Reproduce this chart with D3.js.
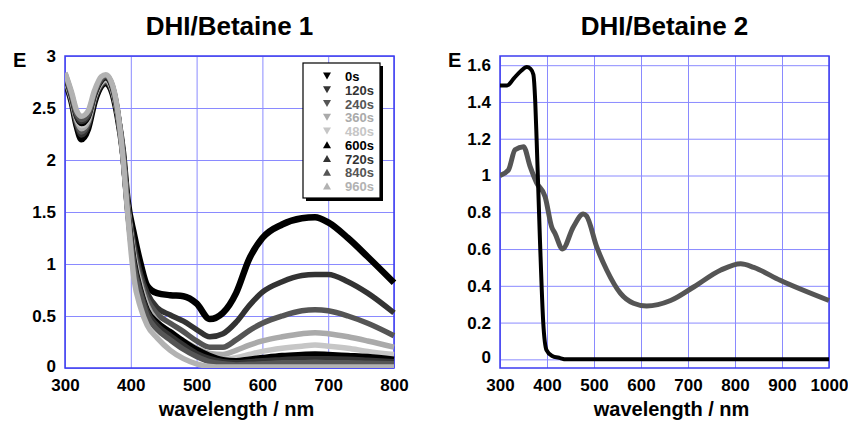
<!DOCTYPE html>
<html>
<head>
<meta charset="utf-8">
<script src="https://cdn.jsdelivr.net/npm/d3@7"></script>
<style>
  body { margin: 0; background: #fff; }
  text { font-family: "Liberation Sans", Arial, sans-serif; font-weight: bold; }
</style>
</head>
<body>
<div id="chart"></div>
<script>
// wavelengths (nm) for the kinetic series, panel 1
const wl1 = [300, 310, 318, 325, 335, 345, 355, 362, 370, 380, 388, 395, 405, 415, 425, 440, 460, 480, 500, 520, 540, 560, 580, 600, 630, 660, 680, 700, 730, 760, 800]

const times = ["0s", "120s", "240s", "360s", "480s", "600s", "720s", "840s", "960s"]
const colors = ["#000000", "#333333", "#555555", "#aaaaaa", "#c6c6c6", "#000000", "#333333", "#555555", "#b2b2b2"]
const shapes = ["down", "down", "down", "down", "down", "up", "up", "up", "up"]

const e0s   = [2.76, 2.56, 2.32, 2.20, 2.30, 2.56, 2.71, 2.74, 2.68, 2.42, 2.08, 1.62, 1.28, 1.00, 0.79, 0.72, 0.70, 0.69, 0.62, 0.47, 0.53, 0.72, 1.05, 1.25, 1.38, 1.44, 1.45, 1.40, 1.25, 1.07, 0.82]
const e120s = [2.77, 2.57, 2.34, 2.24, 2.33, 2.58, 2.72, 2.75, 2.69, 2.43, 2.08, 1.60, 1.18, 0.90, 0.72, 0.58, 0.51, 0.45, 0.37, 0.30, 0.33, 0.44, 0.60, 0.73, 0.83, 0.89, 0.90, 0.90, 0.83, 0.72, 0.53]
const e240s = [2.78, 2.58, 2.36, 2.27, 2.35, 2.60, 2.73, 2.76, 2.70, 2.44, 2.07, 1.58, 1.12, 0.85, 0.66, 0.52, 0.43, 0.35, 0.26, 0.20, 0.20, 0.27, 0.36, 0.43, 0.50, 0.55, 0.56, 0.55, 0.50, 0.43, 0.31]
const e360s = [2.79, 2.59, 2.38, 2.30, 2.37, 2.61, 2.74, 2.77, 2.71, 2.45, 2.06, 1.56, 1.08, 0.80, 0.60, 0.45, 0.34, 0.26, 0.19, 0.14, 0.13, 0.17, 0.22, 0.26, 0.30, 0.33, 0.34, 0.33, 0.30, 0.26, 0.20]
const e480s = [2.80, 2.60, 2.40, 2.33, 2.39, 2.62, 2.75, 2.78, 2.72, 2.45, 2.05, 1.55, 1.05, 0.77, 0.57, 0.42, 0.31, 0.22, 0.15, 0.10, 0.08, 0.10, 0.13, 0.16, 0.19, 0.21, 0.22, 0.21, 0.19, 0.16, 0.13]
const e600s = [2.81, 2.61, 2.41, 2.35, 2.41, 2.63, 2.76, 2.79, 2.73, 2.46, 2.05, 1.54, 1.03, 0.75, 0.56, 0.44, 0.35, 0.26, 0.18, 0.12, 0.08, 0.07, 0.085, 0.10, 0.12, 0.13, 0.135, 0.13, 0.12, 0.11, 0.085]
const e720s = [2.82, 2.62, 2.42, 2.37, 2.42, 2.64, 2.77, 2.80, 2.74, 2.46, 2.04, 1.53, 1.00, 0.73, 0.54, 0.41, 0.31, 0.22, 0.14, 0.09, 0.06, 0.05, 0.06, 0.07, 0.08, 0.09, 0.09, 0.09, 0.085, 0.075, 0.06]
const e840s = [2.83, 2.63, 2.44, 2.39, 2.44, 2.65, 2.78, 2.81, 2.75, 2.47, 2.04, 1.52, 0.96, 0.70, 0.50, 0.37, 0.27, 0.18, 0.11, 0.06, 0.04, 0.03, 0.035, 0.04, 0.05, 0.05, 0.055, 0.05, 0.05, 0.045, 0.04]
const e960s = [2.84, 2.65, 2.47, 2.42, 2.47, 2.67, 2.80, 2.82, 2.76, 2.48, 2.03, 1.50, 0.85, 0.58, 0.41, 0.29, 0.17, 0.09, 0.04, 0.015, 0.01, 0.01, 0.01, 0.01, 0.01, 0.01, 0.01, 0.01, 0.01, 0.01, 0.01]
const series1 = [e0s, e120s, e240s, e360s, e480s, e600s, e720s, e840s, e960s]

// panel 2: two spectra
const wlBlack = [300, 315, 330, 345, 357, 365, 371, 375, 378, 385, 392, 399, 410, 428, 440, 1000]
const eBlack  = [1.49, 1.49, 1.53, 1.57, 1.59, 1.58, 1.55, 1.40, 1.19, 0.65, 0.20, 0.05, 0.02, 0.007, 0.0, 0.0]
const wlGray = [300, 318, 332, 350, 364, 378, 396, 410, 417, 433, 456, 477, 484, 506, 527, 556, 584, 612, 663, 713, 770, 812, 840, 896, 1000]
const eGray  = [1.00, 1.03, 1.14, 1.157, 1.05, 0.96, 0.885, 0.72, 0.685, 0.60, 0.72, 0.79, 0.78, 0.61, 0.486, 0.36, 0.305, 0.29, 0.32, 0.395, 0.486, 0.52, 0.50, 0.43, 0.32]

const yTicks1 = [0, 0.5, 1, 1.5, 2, 2.5, 3]
const xTicks1 = [300, 400, 500, 600, 700, 800]
const yTicks2 = [0, 0.2, 0.4, 0.6, 0.8, 1, 1.2, 1.4, 1.6]
const xTicks2 = [300, 400, 500, 600, 700, 800, 900, 1000]

const W = 848, H = 427
const svg = d3.select("#chart").append("svg").attr("width", W).attr("height", H)

const gridColor = "#8a8aff"
const frameColor = "#3c3cf0"

function panel(opts) {
  const {left, right, top, bottom, xDomain, yDomain, xTicks, yTicks, title} = opts
  const x = d3.scaleLinear().domain(xDomain).range([left, right])
  const y = d3.scaleLinear().domain(yDomain).range([bottom, top])
  const g = svg.append("g")

  // grid + tick labels
  const xg = g.append("g")
    .attr("transform", "translate(0," + bottom + ")")
    .call(d3.axisBottom(x).tickValues(xTicks).tickSize(-(bottom - top)).tickFormat(d3.format("d")).tickPadding(11))
  xg.select(".domain").remove()
  xg.selectAll("line").attr("stroke", gridColor).attr("stroke-width", 1)
  xg.selectAll("text").attr("fill", "#000").attr("font-size", 17).attr("font-family", "Liberation Sans, Arial").attr("font-weight", "bold")

  const yg = g.append("g")
    .attr("transform", "translate(" + left + ",0)")
    .call(d3.axisLeft(y).tickValues(yTicks).tickSize(-(right - left)).tickFormat(d => String(d)).tickPadding(9))
  yg.select(".domain").remove()
  yg.selectAll("line").attr("stroke", gridColor).attr("stroke-width", 1)
  yg.selectAll("text").attr("fill", "#000").attr("font-size", 17).attr("font-family", "Liberation Sans, Arial").attr("font-weight", "bold")
    .attr("dy", d => d === 0 ? "0.2em" : "0.32em")

  // frame
  g.append("rect")
    .attr("x", left).attr("y", top)
    .attr("width", right - left).attr("height", bottom - top)
    .attr("fill", "none").attr("stroke", frameColor).attr("stroke-width", 1.5)

  // title, E, axis label
  g.append("text").attr("x", (left + right) / 2).attr("y", 35)
    .attr("text-anchor", "middle").attr("font-size", 26).text(title)
  g.append("text").attr("x", left - 52).attr("y", 67)
    .attr("font-size", 20).text("E")
  g.append("text").attr("x", (left + right) / 2 + 7).attr("y", 416)
    .attr("text-anchor", "middle").attr("font-size", 20).text("wavelength / nm")

  const clip = "clip" + Math.round(left)
  svg.append("clipPath").attr("id", clip).append("rect")
    .attr("x", left).attr("y", top - 3).attr("width", right - left + 3).attr("height", bottom - top + 3)
  const plot = g.append("g").attr("clip-path", "url(#" + clip + ")")
  return {x, y, plot}
}

// panel 1
const p1 = panel({left: 65, right: 394, top: 56, bottom: 368,
  xDomain: [300, 800], yDomain: [0, 3], xTicks: xTicks1, yTicks: yTicks1, title: "DHI/Betaine 1"})

series1.forEach((vals, i) => {
  const line = d3.line().x((d, j) => p1.x(wl1[j])).y(d => p1.y(d)).curve(d3.curveMonotoneX)
  p1.plot.append("path").datum(vals)
    .attr("d", line)
    .attr("fill", "none")
    .attr("stroke", colors[i])
    .attr("stroke-width", i === 0 ? 6.5 : 5.5)
    .attr("stroke-linejoin", "round")
})

// legend
const leg = svg.append("g")
const lx = 303, ly = 63, lw = 77, lh = 135
leg.append("rect").attr("x", lx + 3).attr("y", ly + 3).attr("width", lw).attr("height", lh).attr("fill", "#000")
leg.append("rect").attr("x", lx).attr("y", ly).attr("width", lw).attr("height", lh)
  .attr("fill", "#fff").attr("stroke", "#000").attr("stroke-width", 1.2)
times.forEach((t, i) => {
  const cy = 76 + i * 13.75
  const tri = shapes[i] === "down"
    ? [[-4, -3.5], [4, -3.5], [0, 3.5]]
    : [[-4, 3.5], [4, 3.5], [0, -3.5]]
  leg.append("path")
    .attr("d", "M" + tri.map(p => [p[0] + 327, p[1] + cy].join(",")).join("L") + "Z")
    .attr("fill", colors[i])
  leg.append("text").attr("x", 345).attr("y", cy + 5)
    .attr("font-size", 13).attr("fill", colors[i]).text(t)
})

// panel 2
const p2 = panel({left: 500, right: 829, top: 56, bottom: 368,
  xDomain: [300, 1000], yDomain: [-0.047, 1.65], xTicks: xTicks2, yTicks: yTicks2, title: "DHI/Betaine 2"})

p2.plot.append("path").datum(eGray)
  .attr("d", d3.line().x((d, j) => p2.x(wlGray[j])).y(d => p2.y(d)).curve(d3.curveMonotoneX))
  .attr("fill", "none").attr("stroke", "#555555").attr("stroke-width", 5).attr("stroke-linejoin", "round")

p2.plot.append("path").datum(eBlack)
  .attr("d", d3.line().x((d, j) => p2.x(wlBlack[j])).y(d => p2.y(d)).curve(d3.curveMonotoneX))
  .attr("fill", "none").attr("stroke", "#000").attr("stroke-width", 4).attr("stroke-linejoin", "round")
</script>
</body>
</html>
